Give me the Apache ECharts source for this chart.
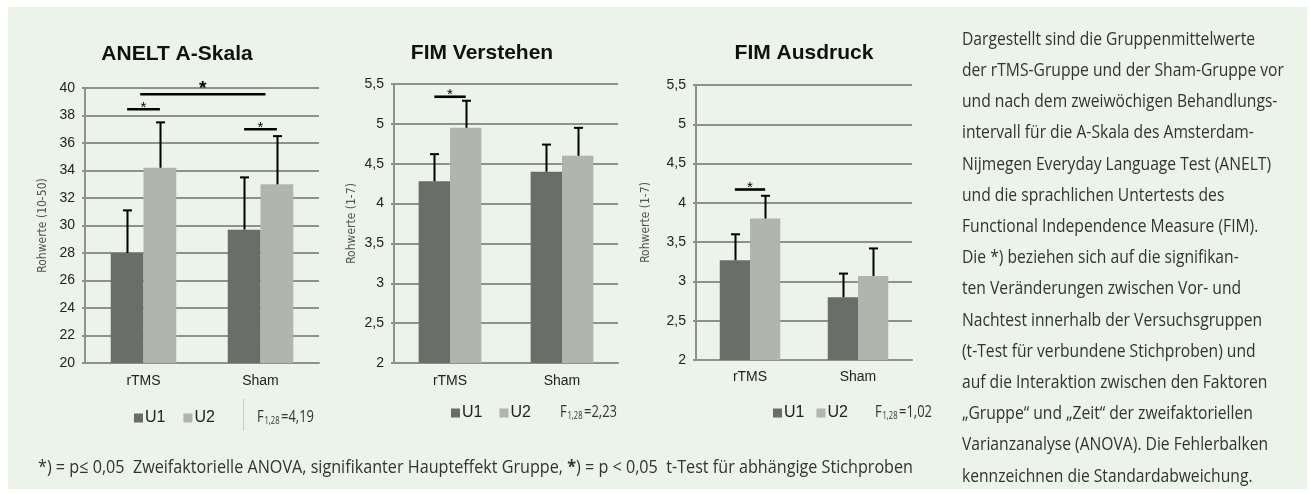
<!DOCTYPE html>
<html>
<head>
<meta charset="utf-8">
<script src="https://cdn.jsdelivr.net/npm/echarts@6/dist/echarts.min.js"></script>
<style>
  html, body { margin: 0; padding: 0; background: #fff; }
  #main { width: 1310px; height: 494px; }
</style>
</head>
<body>
<div id="main"></div>
<script>
// Gruppen und Messzeitpunkte
const groups = ['rTMS', 'Sham'];
const times = ['U1', 'U2'];

// ANELT A-Skala: Mittelwerte und Standardabweichungen
const aneltU1 = [28.0, 29.7];
const aneltU2 = [34.2, 33.0];
const aneltSdU1 = [3.1, 3.8];
const aneltSdU2 = [3.3, 3.5];
const aneltTicks = [20, 22, 24, 26, 28, 30, 32, 34, 36, 38, 40];

// FIM Verstehen
const verstU1 = [4.28, 4.40];
const verstU2 = [4.95, 4.60];
const verstSdU1 = [0.34, 0.34];
const verstSdU2 = [0.34, 0.35];

// FIM Ausdruck
const ausdU1 = [3.27, 2.80];
const ausdU2 = [3.80, 3.07];
const ausdSdU1 = [0.33, 0.30];
const ausdSdU2 = [0.29, 0.35];
const fimTicks = [2, 2.5, 3, 3.5, 4, 4.5, 5, 5.5];

// Signifikanzbalken: [Kategorie von, Versatz in Balkenbreiten, Kategorie bis, Versatz, Höhe, fett]
const aneltSig = [[0, -0.5, 0, 0.5, 38.45, 0], [0, -0.1, 1, 0.15, 39.55, 1], [1, -0.5, 1, 0.5, 37.0, 0]];
const verstSig = [[0, -0.5, 0, 0.5, 5.34, 0]];
const ausdSig = [[0, -0.5, 0, 0.5, 4.17, 0]];

const fValues = ['4,19', '2,23', '1,02'];

const textLines = [
  'Dargestellt sind die Gruppenmittelwerte',
  'der rTMS-Gruppe und der Sham-Gruppe vor',
  'und nach dem zweiwöchigen Behandlungs-',
  'intervall für die A-Skala des Amsterdam-',
  'Nijmegen Everyday Language Test (ANELT)',
  'und die sprachlichen Untertests des',
  'Functional Independence Measure (FIM).',
  'Die *) beziehen sich auf die signifikan-',
  'ten Veränderungen zwischen Vor- und',
  'Nachtest innerhalb der Versuchsgruppen',
  '(t-Test für verbundene Stichproben) und',
  'auf die Interaktion zwischen den Faktoren',
  '„Gruppe“ und „Zeit“ der zweifaktoriellen',
  'Varianzanalyse (ANOVA). Die Fehlerbalken',
  'kennzeichnen die Standardabweichung.'
];
const footA = '*) = p\u2264 0,05  Zweifaktorielle ANOVA, signifikanter Haupteffekt Gruppe, ';
const footB = ') = p < 0,05  t-Test für abhängige Stichproben';

const ARIAL = '"Liberation Sans", Arial, sans-serif';
const NARROW = '"Open Sans", "Noto Sans", sans-serif';
const NARROW_AXIS = '"DejaVu Sans Condensed", "Open Sans", sans-serif';
const BAR_RATIO = 0.28;
const C_U1 = '#6b6d69';
const C_U2 = '#b1b5ae';
const C_GRID = '#8e928b';
const C_TEXT = '#333';

const comma = v => String(v).replace('.', ',');

// Textbreite messen, um die schmale Schrift nachzubilden
const ctx = document.createElement('canvas').getContext('2d');
function measure(text, font) {
  ctx.font = font;
  return ctx.measureText(text).width;
}

function yAxis(idx, ticks, name, nameGap) {
  return {
    type: 'value',
    gridIndex: idx,
    min: ticks[0],
    max: ticks[ticks.length - 1],
    interval: ticks[1] - ticks[0],
    name: name,
    nameLocation: 'middle',
    nameRotate: 90,
    nameGap: nameGap,
    nameTextStyle: { fontFamily: NARROW_AXIS, fontSize: 12, color: '#555' },
    axisLine: { show: true, lineStyle: { color: C_GRID, width: 2 } },
    axisTick: { show: true, length: 3, lineStyle: { color: C_GRID, width: 2 } },
    splitLine: { lineStyle: { color: C_GRID, width: 2 } },
    axisLabel: { fontFamily: ARIAL, fontSize: 14, color: '#222', margin: 10, formatter: comma }
  };
}

function xAxis(idx, margin) {
  return {
    type: 'category',
    gridIndex: idx,
    data: groups,
    axisLine: { lineStyle: { color: C_GRID, width: 2 } },
    axisTick: { show: false },
    axisLabel: { fontFamily: ARIAL, fontSize: 14, color: '#222', margin: margin }
  };
}

function bars(idx, u1, u2) {
  return [
    { name: times[0], type: 'bar', xAxisIndex: idx, yAxisIndex: idx, data: u1,
      barWidth: (BAR_RATIO * 100) + '%', barGap: 0, itemStyle: { color: C_U1 } },
    { name: times[1], type: 'bar', xAxisIndex: idx, yAxisIndex: idx, data: u2,
      barWidth: (BAR_RATIO * 100) + '%', barGap: 0, itemStyle: { color: C_U2 } }
  ];
}

function errorBars(idx, u1, u2, sd1, sd2) {
  const data = [];
  groups.forEach((g, i) => {
    data.push([i, u1[i], sd1[i], 0]);
    data.push([i, u2[i], sd2[i], 1]);
  });
  return {
    type: 'custom', xAxisIndex: idx, yAxisIndex: idx, z: 5, silent: true,
    encode: { x: 0, y: 1 },
    data: data,
    renderItem: function (params, api) {
      const cat = api.value(0), mean = api.value(1), sd = api.value(2), side = api.value(3);
      const bw = api.size([1, 0])[0] * BAR_RATIO;
      const base = api.coord([cat, mean]);
      const top = api.coord([cat, mean + sd]);
      const x = Math.round(base[0] + (side === 0 ? -bw / 2 : bw / 2)) + 0.5;
      const st = { stroke: '#000', lineWidth: 2 };
      return { type: 'group', children: [
        { type: 'line', shape: { x1: x, y1: base[1], x2: x, y2: top[1] }, style: st },
        { type: 'line', shape: { x1: x - 4.5, y1: top[1], x2: x + 4.5, y2: top[1] }, style: st }
      ] };
    }
  };
}

function sigBars(idx, sig) {
  return {
    type: 'custom', xAxisIndex: idx, yAxisIndex: idx, z: 6, silent: true,
    encode: { x: 0, y: 4 },
    data: sig,
    renderItem: function (params, api) {
      const s = sig[params.dataIndex];
      const bw = api.size([1, 0])[0] * BAR_RATIO;
      const p0 = api.coord([s[0], s[4]]);
      const p1 = api.coord([s[2], s[4]]);
      const x0 = p0[0] + s[1] * bw, x1 = p1[0] + s[3] * bw;
      return { type: 'group', children: [
        { type: 'line', shape: { x1: x0, y1: p0[1], x2: x1, y2: p0[1] }, style: { stroke: '#000', lineWidth: 2.6 } },
        { type: 'text', x: (x0 + x1) / 2, y: p0[1] + (s[5] ? 4 : 6),
          style: { text: '*', align: 'center', verticalAlign: 'bottom', fill: '#000',
            font: (s[5] ? 'bold 19px ' : '15px ') + ARIAL } }
      ] };
    }
  };
}

// F-Wert mit tiefgestellten Freiheitsgraden, auf Zielbreite gestaucht
function fText(x, y, val, targetW) {
  const w = measure('F=' + val, '17px ' + NARROW) + measure('1,28', '10px ' + NARROW) + 3;
  return {
    type: 'text', x: x, y: y, scaleX: targetW / w, silent: true,
    style: {
      text: '{f|F}{s|1,28}{f|=' + val + '}',
      verticalAlign: 'top',
      rich: {
        f: { fontFamily: NARROW, fontSize: 17, fill: C_TEXT, verticalAlign: 'bottom', lineHeight: 20 },
        s: { fontFamily: NARROW, fontSize: 10, fill: C_TEXT, verticalAlign: 'bottom', lineHeight: 14, padding: [0, 2, 0, 1] }
      }
    }
  };
}

const sideScale = 293 / measure(textLines[0], '18px ' + NARROW);
const footScale = 875 / (measure(footA + footB, '18px ' + NARROW) + measure('*', 'bold 18px ' + NARROW));

const legendBase = {
  orient: 'horizontal', padding: 0, itemWidth: 9, itemHeight: 9, icon: 'rect',
  textStyle: { fontFamily: ARIAL, fontSize: 16, color: '#222', padding: [0, 0, 0, -3] },
  data: times, selectedMode: false
};

const chart = echarts.init(document.getElementById('main'));
chart.setOption({
  backgroundColor: '#fff',
  animation: false,
  title: [
    { text: 'ANELT A-Skala', left: 177, top: 44, textAlign: 'center', padding: 0,
      textStyle: { fontFamily: ARIAL, fontWeight: 'bold', fontSize: 21, color: '#111' } },
    { text: 'FIM Verstehen', left: 482, top: 43, textAlign: 'center', padding: 0,
      textStyle: { fontFamily: ARIAL, fontWeight: 'bold', fontSize: 21, color: '#111' } },
    { text: 'FIM Ausdruck', left: 804, top: 43, textAlign: 'center', padding: 0,
      textStyle: { fontFamily: ARIAL, fontWeight: 'bold', fontSize: 21, color: '#111' } }
  ],
  legend: [
    Object.assign({}, legendBase, { left: 134, top: 410, itemGap: 18 }),
    Object.assign({}, legendBase, { left: 451, top: 405, itemGap: 17 }),
    Object.assign({}, legendBase, { left: 773, top: 405, itemGap: 12 })
  ],
  grid: [
    { left: 85, top: 88, width: 234, height: 275 },
    { left: 394, top: 84, width: 224, height: 279 },
    { left: 696, top: 85, width: 216, height: 275 }
  ],
  xAxis: [xAxis(0, 11), xAxis(1, 11), xAxis(2, 10)],
  yAxis: [
    yAxis(0, aneltTicks, 'Rohwerte (10-50)', 36),
    yAxis(1, fimTicks, 'Rohwerte (1-7)', 36),
    yAxis(2, fimTicks, 'Rohwerte (1-7)', 44)
  ],
  series: [].concat(
    bars(0, aneltU1, aneltU2),
    bars(1, verstU1, verstU2),
    bars(2, ausdU1, ausdU2),
    [errorBars(0, aneltU1, aneltU2, aneltSdU1, aneltSdU2),
     errorBars(1, verstU1, verstU2, verstSdU1, verstSdU2),
     errorBars(2, ausdU1, ausdU2, ausdSdU1, ausdSdU2),
     sigBars(0, aneltSig), sigBars(1, verstSig), sigBars(2, ausdSig)]
  ),
  graphic: [
    { type: 'rect', z: -100, silent: true, shape: { x: 8, y: 7, width: 1299, height: 482 },
      style: { fill: '#ecf3e8' } },
    { type: 'line', silent: true, shape: { x1: 243.5, y1: 399, x2: 243.5, y2: 431 },
      style: { stroke: '#c9cec5', lineWidth: 1 } },
    fText(257, 406, fValues[0], 57),
    fText(560, 401, fValues[1], 57),
    fText(875, 401, fValues[2], 57),
    { type: 'text', x: 962, y: 24, scaleX: sideScale, silent: true,
      style: { text: textLines.join('\n'), fontFamily: NARROW, fontSize: 18, lineHeight: 31.2, fill: C_TEXT } },
    { type: 'text', x: 38, y: 459, scaleX: footScale, silent: true,
      style: {
        text: footA + '{b|*}' + footB,
        fontFamily: NARROW, fontSize: 18, fill: C_TEXT,
        rich: { b: { fontFamily: NARROW, fontSize: 18, fontWeight: 'bold', fill: C_TEXT } }
      } }
  ]
});
</script>
</body>
</html>
